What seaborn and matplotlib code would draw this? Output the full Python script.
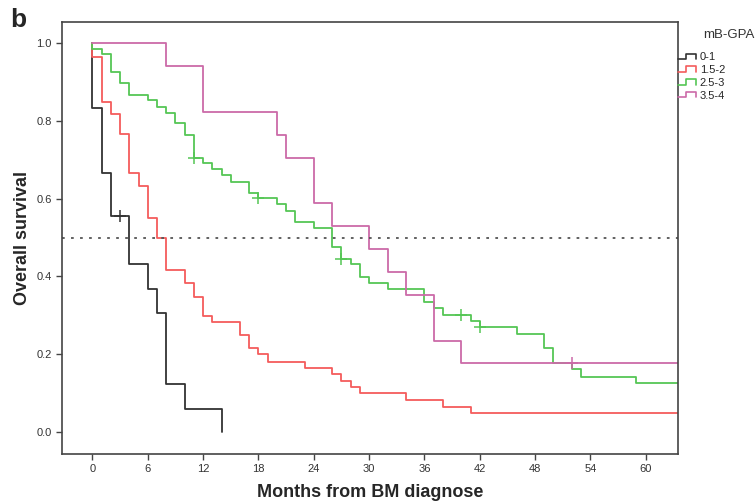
import matplotlib
matplotlib.use('Agg')
import matplotlib.pyplot as plt
from matplotlib.lines import Line2D
from matplotlib.legend_handler import HandlerBase
import numpy as np
import pandas as pd
import seaborn as sns

# Kaplan-Meier step data (months, survival)
groups = ['0-1', '1.5-2', '2.5-3', '3.5-4']
colors = ['#333333', '#f45c5c', '#55c655', '#cc6aa8']

t_01 = [0, 0, 1, 2, 4, 6, 7, 8, 10, 14]
s_01 = [1.0, 0.833, 0.667, 0.556, 0.432, 0.369, 0.307, 0.123, 0.059, 0.0]

t_15 = [0, 0, 1, 2, 3, 4, 5, 6, 7, 8, 10, 11, 12, 13, 16, 17, 18, 19, 23,
        26, 27, 28, 29, 34, 38, 41, 63.5]
s_15 = [1.0, 0.966, 0.85, 0.817, 0.767, 0.667, 0.633, 0.55, 0.5, 0.416,
        0.382, 0.348, 0.298, 0.282, 0.249, 0.215, 0.2, 0.18, 0.165, 0.149,
        0.131, 0.115, 0.099, 0.082, 0.065, 0.048, 0.048]

t_25 = [0, 0, 1, 2, 3, 4, 6, 7, 8, 9, 10, 11, 12, 13, 14, 15, 17, 18, 20,
        21, 22, 24, 26, 27, 28, 29, 30, 32, 36, 37, 38, 41, 42, 46, 49, 50,
        52, 53, 59, 63.5]
s_25 = [1.0, 0.985, 0.972, 0.927, 0.897, 0.867, 0.854, 0.837, 0.822, 0.794,
        0.764, 0.704, 0.691, 0.676, 0.661, 0.644, 0.616, 0.601, 0.586, 0.569,
        0.539, 0.524, 0.476, 0.445, 0.431, 0.398, 0.382, 0.367, 0.335, 0.319,
        0.302, 0.286, 0.269, 0.251, 0.215, 0.178, 0.161, 0.142, 0.125, 0.125]

t_35 = [0, 8, 12, 20, 21, 24, 26, 30, 32, 34, 37, 40, 63.5]
s_35 = [1.0, 0.941, 0.824, 0.765, 0.706, 0.588, 0.529, 0.471, 0.412, 0.353,
        0.235, 0.176, 0.176]

# censored observations
cens_group = ['0-1', '2.5-3', '2.5-3', '2.5-3', '2.5-3', '2.5-3', '3.5-4']
cens_t = [3, 11, 18, 27, 40, 42, 52]
cens_s = [0.556, 0.704, 0.601, 0.445, 0.302, 0.269, 0.176]

x_ticks = list(range(0, 61, 6))
y_ticks = [0.0, 0.2, 0.4, 0.6, 0.8, 1.0]

frames = []
for g, t, s in zip(groups, [t_01, t_15, t_25, t_35], [s_01, s_15, s_25, s_35]):
    frames.append(pd.DataFrame({'t': t, 's': s, 'group': g}))
km = pd.concat(frames, ignore_index=True)
cens = pd.DataFrame({'t': cens_t, 's': cens_s, 'group': cens_group})

sns.set_style('ticks')
plt.rcParams['font.family'] = ['Liberation Sans', 'DejaVu Sans']

fig = plt.figure(figsize=(7.55, 5.03), dpi=100)
ax = fig.add_axes([0.0821, 0.0974, 0.8159, 0.8589])

pal = dict(zip(groups, colors))
sns.lineplot(data=km, x='t', y='s', hue='group', palette=pal,
             drawstyle='steps-post', estimator=None, sort=False,
             linewidth=1.3, legend=False, ax=ax)
for g in groups:
    sub = cens[cens.group == g]
    ax.plot(sub.t, sub.s, linestyle='none', marker='+', markersize=8,
            markeredgewidth=1.1, color=pal[g])

ax.axhline(0.5, color='#555555', linestyle=(0, (1.5, 3.5)), linewidth=1.3)

ax.set_xlim(-3.3, 63.5)
ax.set_ylim(-0.057, 1.055)
ax.set_xticks(x_ticks)
ax.set_yticks(y_ticks)
ax.set_yticklabels(['%.1f' % v for v in y_ticks])
ax.tick_params(labelsize=8, length=4, width=1, color='#444444',
               labelcolor='#333333')
for sp in ax.spines.values():
    sp.set_visible(True)
    sp.set_color('#444444')
    sp.set_linewidth(1.2)

ax.set_xlabel('Months from BM diagnose', fontsize=13, fontweight='bold',
              labelpad=7)
ax.set_ylabel('Overall survival', fontsize=13, fontweight='bold', labelpad=4)


class StepHandler(HandlerBase):
    def create_artists(self, legend, orig_handle, xdescent, ydescent,
                       width, height, fontsize, trans):
        w, h = width, height
        xs = np.array([0, 0.45, 0.45, 1.0, 1.0]) * w - xdescent
        ys = np.array([0.15, 0.15, 0.85, 0.85, 0.15]) * h - ydescent
        ln = Line2D(xs, ys, color=orig_handle.get_color(), linewidth=1.2,
                    transform=trans)
        return [ln]


handles = [Line2D([], [], color=c) for c in colors]
leg = ax.legend(handles, groups, loc='upper left',
                bbox_to_anchor=(1.0, 0.93), frameon=False, fontsize=8,
                handlelength=1.6, handletextpad=0.35, labelspacing=0.25,
                borderaxespad=0, borderpad=0,
                handler_map={Line2D: StepHandler()})
fig.text(703 / 755, 1 - 35 / 503, 'mB-GPA', fontsize=9.5, va='center',
         ha='left', color='#333333')
fig.text(10 / 755, 1 - 20 / 503, 'b', fontsize=19, fontweight='bold',
         va='center', ha='left')

fig.savefig('out.png', dpi=100)
